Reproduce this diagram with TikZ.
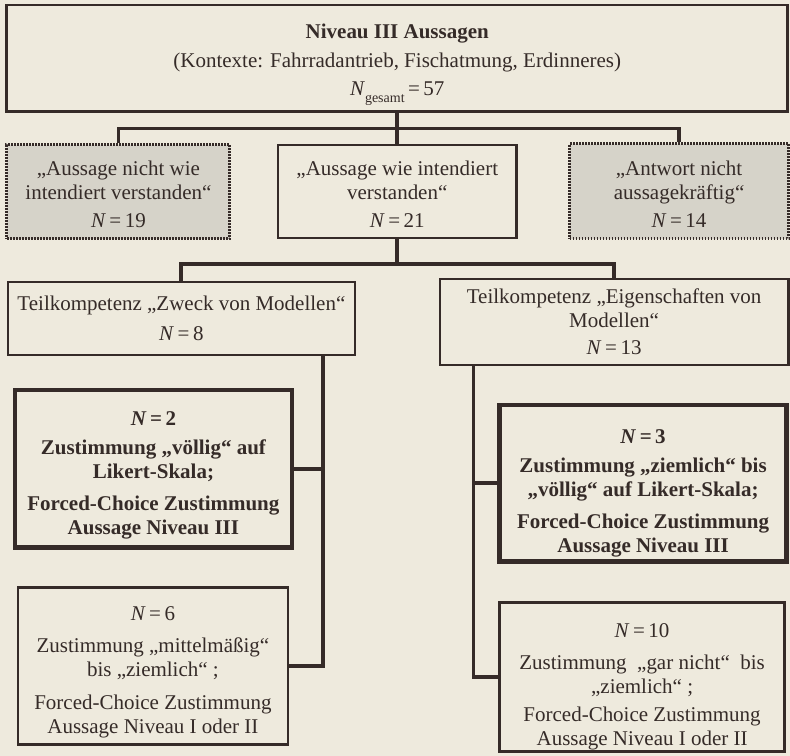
\documentclass[tikz,border=0pt]{standalone}
\usepackage{fontspec}
\setmainfont{Liberation Serif}
\usepackage{xcolor}
\usetikzlibrary{calc}
\definecolor{ink}{HTML}{352B28}
\definecolor{paper}{HTML}{EEEADD}
\definecolor{shade}{HTML}{D6D3C9}
\newcommand{\pushdown}[1]{\rule{0pt}{#1}}

\begin{document}
\begin{tikzpicture}[x=1pt, y=-1pt, font=\fontsize{21}{24}\selectfont, text=ink,
    box/.style={draw=ink, line width=2.4pt, align=center, inner sep=0pt},
    heavy/.style={box, line width=4.5pt, font=\fontsize{21}{24}\selectfont\bfseries},
    faded/.style={box, fill=shade, dash pattern=on 1.8pt off 1.2pt, line width=3pt},
    conn/.style={draw=ink, line width=3.8pt}]
    \fill[paper] (0,0) rectangle (790,756);
    \node[box, line width=3pt, minimum width=781, minimum height=107] (top) at (397.5,58.5)
      {\pushdown{27pt}\textbf{Niveau III Aussagen}\\[5pt] (Kontexte: Fahrradantrieb, Fischatmung, Erdinneres)\\[4pt]
       \textit{N}\raisebox{-0.35em}{\fontsize{14}{14}\selectfont gesamt}\,=\,57};
    \node[faded, minimum width=223, minimum height=94] (nicht) at (118.5,192)
      {\pushdown{20pt}„Aussage nicht wie\\ intendiert verstanden“\\[4pt] \textit{N}\,=\,19};
    \node[box, minimum width=239, minimum height=93] (wie) at (397.5,191.5)
      {\pushdown{20pt}„Aussage wie intendiert\\ verstanden“\\[4pt] \textit{N}\,=\,21};
    \node[faded, minimum width=219, minimum height=95] (antwort) at (679.5,191.5)
      {\pushdown{20pt}„Antwort nicht\\ aussagekräftig“\\[4pt] \textit{N}\,=\,14};
    \node[box, minimum width=347, minimum height=73] (zweck) at (181.5,318.5)
      {Teilkompetenz „Zweck von Modellen“\\[6pt] \textit{N}\,=\,8};
    \node[box, minimum width=349, minimum height=86] (eigen) at (614.5,322)
      {Teilkompetenz „Eigenschaften von\\ Modellen“\\[3pt] \textit{N}\,=\,13};
    \node[heavy, minimum width=277, minimum height=158] (voellig) at (153.5,469)
      {\pushdown{28pt}\textit{N}\,=\,2\\[5pt] Zustimmung „völlig“ auf\\ Likert-Skala;\\[8pt] Forced-Choice Zustimmung\\ Aussage Niveau III};
    \node[box, minimum width=270, minimum height=157] (mittel) at (153,666.5)
      {\pushdown{26pt}\textit{N}\,=\,6\\[8pt] Zustimmung „mittelmäßig“\\ bis „ziemlich“ ;\\[9pt] Forced-Choice Zustimmung\\ Aussage Niveau I oder II};
    \node[heavy, minimum width=287, minimum height=157] (ziemlich) at (643.5,483.5)
      {\pushdown{34pt}\textit{N}\,=\,3\\[5pt] Zustimmung „ziemlich“ bis\\ „völlig“ auf Likert-Skala;\\[8pt] Forced-Choice Zustimmung\\ Aussage Niveau III};
    \node[box, minimum width=285, minimum height=149] (garnicht) at (642.5,677.5)
      {\pushdown{34pt}\textit{N}\,=\,10\\[8pt] Zustimmung \ „gar nicht“ \ bis\\ „ziemlich“ ;\\[4pt] Forced-Choice Zustimmung\\ Aussage Niveau I oder II};
    \coordinate (fork) at ($(top.south)!0.5!(wie.north)$);
    \coordinate (split) at ($(wie.south)+(0,25)$);
    \draw[conn] (top.south) -- (wie.north);
    \draw[conn] (nicht.north) |- (fork) -| (antwort.north);
    \draw[conn] (wie.south) -- (split);
    \draw[conn] (zweck.north) |- (split) -| (eigen.north);
    \draw[conn] ([xshift=-33]zweck.south east) |- (voellig.east);
    \draw[conn] ([xshift=-33]zweck.south east) |- (mittel.east);
    \draw[conn] ([xshift=35]eigen.south west) |- (ziemlich.west);
    \draw[conn] ([xshift=35]eigen.south west) |- (garnicht.west);
  \end{tikzpicture}
\end{document}
